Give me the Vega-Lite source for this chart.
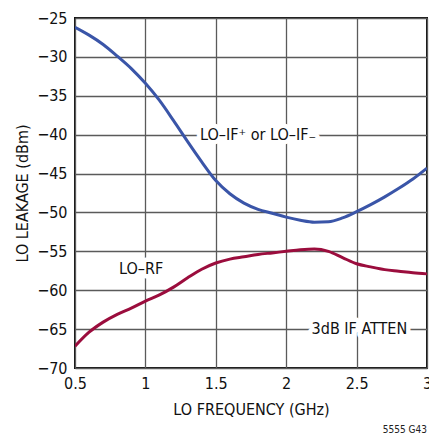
{
  "$schema": "https://vega.github.io/schema/vega-lite/v6.json",
  "width": 352,
  "height": 350,
  "autosize": {"type": "none"},
  "padding": {"left": 75, "top": 18, "right": 2, "bottom": 68},
  "background": "white",
  "config": {
    "font": "Liberation Sans Narrow, DejaVu Sans Condensed, sans-serif",
    "view": {"stroke": "#111", "strokeWidth": 2},
    "axis": {
      "labelFont": "Liberation Sans Narrow, DejaVu Sans Condensed, sans-serif",
      "titleFont": "Liberation Sans Narrow, DejaVu Sans Condensed, sans-serif",
      "labelFontSize": 16,
      "titleFontSize": 16,
      "labelColor": "#111",
      "titleColor": "#111",
      "titleFontWeight": "normal",
      "gridColor": "#5a5a5a",
      "gridWidth": 1.3,
      "gridOpacity": 1,
      "domain": false,
      "ticks": false
    }
  },
  "title": {
    "text": "5555 G43",
    "orient": "bottom",
    "anchor": "end",
    "frame": "group",
    "fontSize": 10,
    "fontWeight": "normal",
    "color": "#222",
    "font": "Liberation Sans Narrow, DejaVu Sans Condensed, sans-serif",
    "offset": 8
  },
  "datasets": {
    "curves": [
      {"f": 0.5, "v": -26.2, "s": "IF"}, {"f": 0.6, "v": -27.2, "s": "IF"}, {"f": 0.7, "v": -28.4, "s": "IF"},
      {"f": 0.8, "v": -29.9, "s": "IF"}, {"f": 0.9, "v": -31.5, "s": "IF"}, {"f": 1.0, "v": -33.4, "s": "IF"},
      {"f": 1.1, "v": -35.6, "s": "IF"}, {"f": 1.2, "v": -38.2, "s": "IF"}, {"f": 1.3, "v": -40.9, "s": "IF"},
      {"f": 1.4, "v": -43.5, "s": "IF"}, {"f": 1.5, "v": -45.9, "s": "IF"}, {"f": 1.6, "v": -47.6, "s": "IF"},
      {"f": 1.7, "v": -48.8, "s": "IF"}, {"f": 1.8, "v": -49.6, "s": "IF"}, {"f": 1.9, "v": -50.1, "s": "IF"},
      {"f": 2.0, "v": -50.6, "s": "IF"}, {"f": 2.1, "v": -51.0, "s": "IF"}, {"f": 2.2, "v": -51.25, "s": "IF"},
      {"f": 2.3, "v": -51.2, "s": "IF"}, {"f": 2.4, "v": -50.7, "s": "IF"}, {"f": 2.5, "v": -49.9, "s": "IF"},
      {"f": 2.6, "v": -49.0, "s": "IF"}, {"f": 2.7, "v": -48.0, "s": "IF"}, {"f": 2.8, "v": -46.9, "s": "IF"},
      {"f": 2.9, "v": -45.7, "s": "IF"}, {"f": 3.0, "v": -44.3, "s": "IF"},
      {"f": 0.5, "v": -67.2, "s": "RF"}, {"f": 0.6, "v": -65.4, "s": "RF"}, {"f": 0.7, "v": -64.1, "s": "RF"},
      {"f": 0.8, "v": -63.1, "s": "RF"}, {"f": 0.9, "v": -62.3, "s": "RF"}, {"f": 1.0, "v": -61.4, "s": "RF"},
      {"f": 1.1, "v": -60.6, "s": "RF"}, {"f": 1.2, "v": -59.6, "s": "RF"}, {"f": 1.3, "v": -58.4, "s": "RF"},
      {"f": 1.4, "v": -57.3, "s": "RF"}, {"f": 1.5, "v": -56.5, "s": "RF"}, {"f": 1.6, "v": -56.0, "s": "RF"},
      {"f": 1.7, "v": -55.7, "s": "RF"}, {"f": 1.8, "v": -55.4, "s": "RF"}, {"f": 1.9, "v": -55.2, "s": "RF"},
      {"f": 2.0, "v": -55.0, "s": "RF"}, {"f": 2.1, "v": -54.8, "s": "RF"}, {"f": 2.2, "v": -54.7, "s": "RF"},
      {"f": 2.3, "v": -55.0, "s": "RF"}, {"f": 2.4, "v": -55.8, "s": "RF"}, {"f": 2.5, "v": -56.6, "s": "RF"},
      {"f": 2.6, "v": -57.0, "s": "RF"}, {"f": 2.7, "v": -57.35, "s": "RF"}, {"f": 2.8, "v": -57.55, "s": "RF"},
      {"f": 2.9, "v": -57.75, "s": "RF"}, {"f": 3.0, "v": -57.9, "s": "RF"}
    ],
    "labels": [
      {"f": 1.8, "v": -40, "t": "LO–IF⁺ or LO–IF₋"},
      {"f": 0.97, "v": -57.3, "t": "LO–RF"},
      {"f": 2.52, "v": -65, "t": "3dB IF ATTEN"}
    ]
  },
  "encoding": {
    "x": {
      "field": "f", "type": "quantitative",
      "scale": {"domain": [0.5, 3], "nice": false, "zero": false},
      "axis": {"values": [0.5, 1, 1.5, 2, 2.5, 3], "format": "~g", "title": "LO FREQUENCY (GHz)", "labelPadding": 7, "titlePadding": 10, "labelFlush": false, "labelOverlap": false}
    },
    "y": {
      "field": "v", "type": "quantitative",
      "scale": {"domain": [-70, -25], "nice": false, "zero": false},
      "axis": {"values": [-70, -65, -60, -55, -50, -45, -40, -35, -30, -25], "format": "~g", "title": "LO LEAKAGE (dBm)", "labelPadding": 8, "titlePadding": 6, "labelFlush": false, "labelOverlap": false}
    }
  },
  "layer": [
    {
      "data": {"name": "curves"},
      "mark": {"type": "line", "strokeWidth": 3, "interpolate": "monotone", "clip": true},
      "encoding": {
        "color": {
          "field": "s", "type": "nominal",
          "scale": {"domain": ["IF", "RF"], "range": ["#3a55a8", "#9b0d3d"]},
          "legend": null
        }
      }
    },
    {
      "data": {"name": "labels"},
      "mark": {"type": "text", "fontSize": 16, "stroke": "white", "strokeWidth": 9, "strokeJoin": "round", "fill": "white", "baseline": "middle", "align": "center"},
      "encoding": {
        "text": {"field": "t"}
      }
    },
    {
      "data": {"name": "labels"},
      "mark": {"type": "text", "fontSize": 16, "fill": "#111", "baseline": "middle", "align": "center"},
      "encoding": {
        "text": {"field": "t"}
      }
    }
  ]
}
